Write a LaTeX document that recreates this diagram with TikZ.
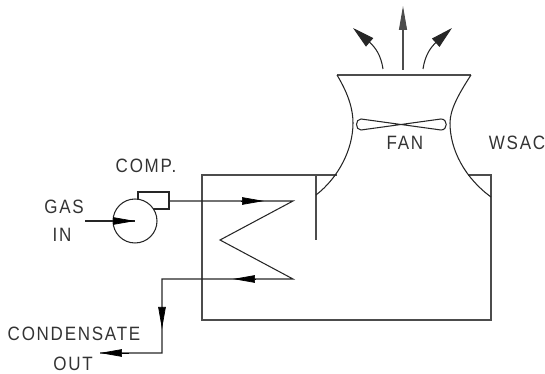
\documentclass[tikz,border=0pt]{standalone}
\usepackage{fontspec}
\setsansfont[LetterSpace=9,FakeStretch=0.88]{Liberation Sans}
\usetikzlibrary{arrows.meta}

\tikzset{
  pipe/.style={black!85, line width=0.6pt},
  shell/.style={black!70, line width=0.6pt},
  flowhead/.style={black, line width=0.4pt, -{Triangle[length=0.44cm, width=0.15cm]}},
  airhead/.style={-{Triangle[length=0.44cm, width=0.22cm]}},
  tag/.style={black!80, font=\sffamily\fontsize{11}{13}\selectfont, inner sep=0pt}
}

\begin{document}
\begin{tikzpicture}[x=0.02cm, y=-0.02cm]
  \useasboundingbox (0,0) rectangle (545,374);

  % Basin and baffle
  \coordinate (BasinL) at (337,175);
  \coordinate (BasinR) at (468,175);
  \coordinate (WallR)  at (491,175);
  \draw[shell] (BasinL) -- (202,175) -- (202,320) -- (491,320) -- (WallR) -- (BasinR);
  \draw[shell] (316,175) -- (316,240);

  % Tower walls
  \coordinate (TopL) at (337,75);
  \coordinate (TopR) at (471,75);
  \draw[shell] (TopL) -- (TopR);
  \draw[pipe] (TopL) .. controls (349,95) and (353,110) .. (353,123)
    .. controls (353,150) and (338,178) .. (316,195);
  \draw[pipe] (TopR) .. controls (458,95) and (450,110) .. (450,123)
    .. controls (450,150) and (465,178) .. (491,197);

  % Fan blades
  \draw[pipe] (361,119) -- (441,130) .. controls (448,130) and (448,119) .. (441,119)
    -- (361,130) .. controls (355,130) and (355,119) .. (361,119) -- cycle;

  % Air leaving the fan
  \coordinate (AirC) at (403,70);
  \coordinate (AirL) at (383,69);
  \coordinate (AirR) at (423,69);
  \coordinate (TipC) at (403,6);
  \coordinate (TipL) at (353,28);
  \coordinate (TipR) at (452,28);
  \draw[shell, -{Triangle[length=0.48cm, width=0.16cm]}] (AirC) -- (TipC);
  \draw[pipe, airhead] (AirL) .. controls (381,55) and (375,47) .. (TipL);
  \draw[pipe, airhead] (AirR) .. controls (425,55) and (431,47) .. (TipR);

  % Compressor
  \coordinate (Comp) at (135,221);
  \draw[pipe] (138,192) rectangle (169,209);
  \filldraw[pipe, fill=white] (Comp) circle (22);

  % Gas line and coil
  \coordinate (GasIn)  at (85,221);
  \coordinate (Outlet) at (169,201);
  \coordinate (CoilA)  at (293,201);
  \coordinate (CoilB)  at (220,240);
  \coordinate (CoilC)  at (293,279);
  \coordinate (Drop)   at (162,279);
  \coordinate (Elbow)  at (162,353);
  \coordinate (CondOut) at (100,353);
  \draw[pipe] (GasIn) -- (Comp);
  \draw[pipe] (Outlet) -- (CoilA) -- (CoilB) -- (CoilC) -- (Drop) -- (Elbow) -- (CondOut);

  % Flow heads on the lines
  \coordinate (HeadA) at (264,201);
  \coordinate (HeadB) at (233,279);
  \coordinate (HeadC) at (162,329);
  \draw[flowhead] (113,221) -- (Comp);
  \draw[flowhead] (241,201) -- (HeadA);
  \draw[flowhead] (256,279) -- (HeadB);
  \draw[flowhead] (162,307) -- (HeadC);
  \draw[flowhead] (129,353) -- (CondOut);

  % Labels
  \node[tag] (comp) at (146,166) {COMP.};
  \node[tag] (gas)  at (64,207)  {GAS};
  \node[tag] (in)   at (62,235)  {IN};
  \node[tag] (cond) at (74,334)  {CONDENSATE};
  \node[tag] (out)  at (73,364)  {OUT};
  \node[tag] (fan)  at (405,143) {FAN};
  \node[tag] (wsac) at (517,143) {WSAC};
\end{tikzpicture}
\end{document}
